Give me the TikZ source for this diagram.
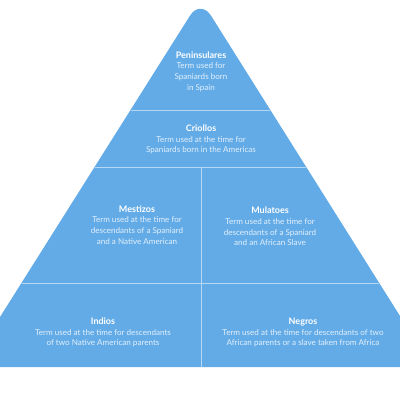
\documentclass[tikz,border=0pt]{standalone}
\usepackage{fontspec}
\setmainfont{Lato}

\definecolor{pyrblue}{HTML}{63ABE7}
\definecolor{pyrline}{HTML}{B5D8F5}
\definecolor{pyrtext}{HTML}{E2F0FB}
\newcommand{\bandtext}[2]{{\fontsize{6.4}{7.6}\selectfont\bfseries\color{white}#1}\\#2}

\begin{document}
\begin{tikzpicture}[x=0.025cm,y=-0.025cm]
\tikzset{
  band/.style={align=center,text=pyrtext,inner sep=0pt,font=\fontsize{5.75}{7.6}\selectfont},
  divider/.style={draw=pyrline,line width=0.7pt}
}
\useasboundingbox (0,0) rectangle (400,400);
\coordinate (apex) at (200.5,-1);
\coordinate (base_l) at (0,367);
\coordinate (base_r) at (400,367);
\fill[pyrblue] (base_l) -- (0,317) [rounded corners=14pt] -- (apex) [sharp corners] -- (400,316) -- (base_r) -- cycle;
% band dividers
\coordinate (d1_l) at (130.6,110);
\coordinate (d1_r) at (270.4,110);
\coordinate (d2_l) at (94.7,167);
\coordinate (d2_r) at (306.3,167);
\coordinate (d3_l) at (21.6,283);
\coordinate (d3_r) at (379.4,283);
\coordinate (mid_t) at (201,167);
\coordinate (mid_b) at (201,367);
\draw[divider] (d1_l) -- (d1_r);
\draw[divider] (d2_l) -- (d2_r);
\draw[divider] (d3_l) -- (d3_r);
\draw[divider] (mid_t) -- (mid_b);
% labels
\node[band] (n_pen) at (201,71.5) {\bandtext{Peninsulares}{Term used for\\Spaniards born\\in Spain}};
\node[band] (n_cri) at (201,139.5) {\bandtext{Criollos}{Term used at the time for\\Spaniards born in the Americas}};
\node[band] (n_mes) at (137,225) {\bandtext{Mestizos}{Term used at the time for\\descendants of a Spaniard\\and a Native American}};
\node[band] (n_mul) at (270,226.5) {\bandtext{Mulatoes}{Term used at the time for\\descendants of a Spaniard\\and an African Slave}};
\node[band] (n_ind) at (103,332.5) {\bandtext{Indios}{Term used at the time for descendants\\of two Native American parents}};
\node[band] (n_neg) at (303,332.5) {\bandtext{Negros}{Term used at the time for descendants of two\\African parents or a slave taken from Africa}};
\end{tikzpicture}
\end{document}
